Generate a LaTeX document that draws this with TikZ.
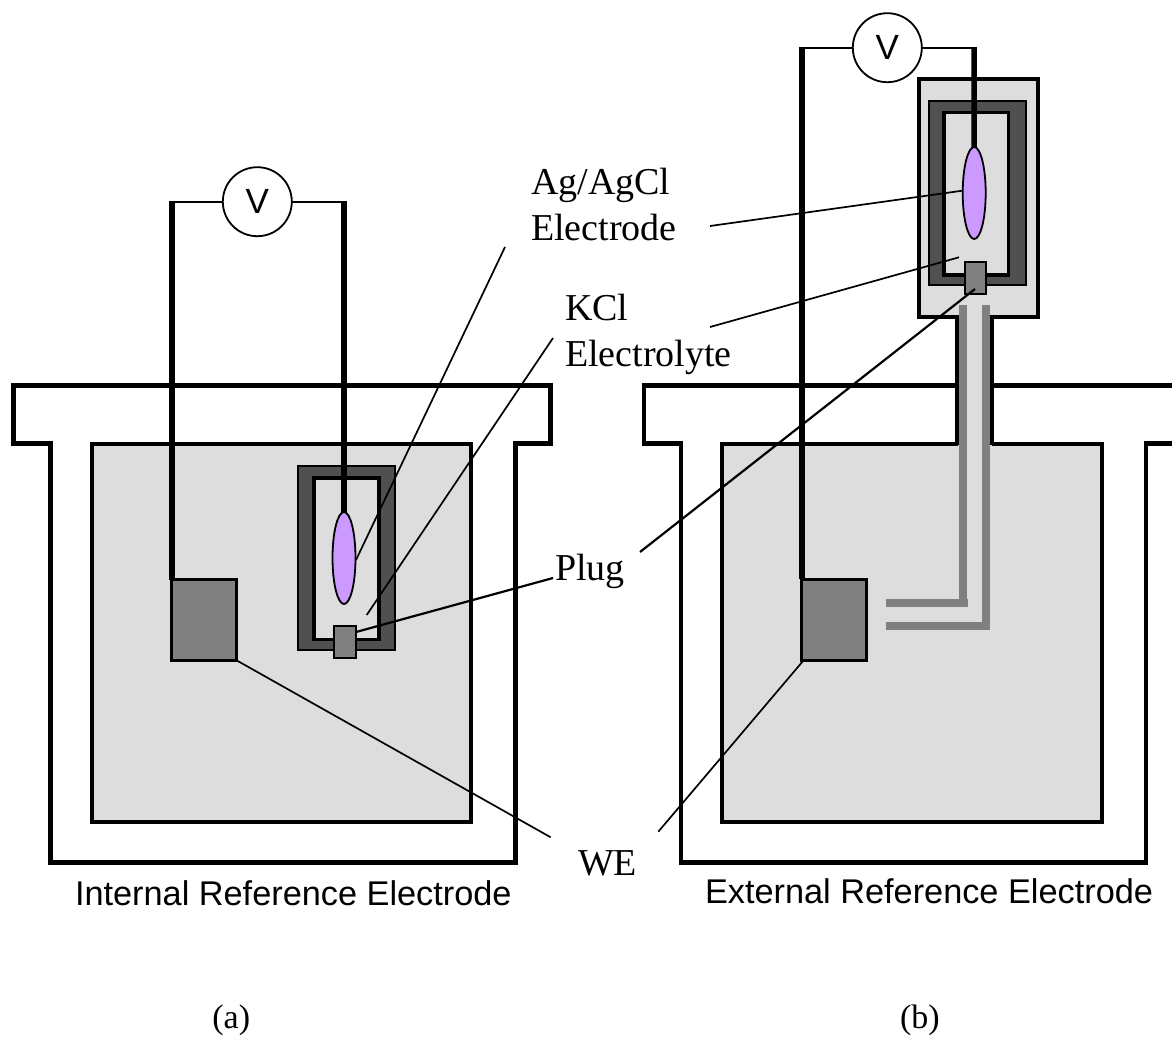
\documentclass[tikz,border=0pt]{standalone}
\usepackage{fontspec}
\usetikzlibrary{shapes.geometric}
\setmainfont{Liberation Serif}
\newfontfamily\capfont{Liberation Sans}
\definecolor{liquid}{HTML}{DDDDDD}
\definecolor{darkwall}{HTML}{505050}
\definecolor{plugc}{HTML}{808080}
\definecolor{agcl}{HTML}{CC99FF}
\tikzset{
  wall/.style={draw=black,line width=4.5pt,miter limit=10},
  liquidbox/.style={rectangle,draw=black,fill=liquid,line width=4pt,inner sep=0pt,outer sep=0pt},
  darkbox/.style={rectangle,draw=black,fill=darkwall,line width=2pt,inner sep=0pt,outer sep=0pt},
  innerbox/.style={rectangle,draw=black,fill=liquid,line width=3.2pt,inner sep=0pt,outer sep=0pt},
  plugbox/.style={rectangle,draw=black,fill=plugc,line width=2pt,inner sep=0pt,outer sep=0pt},
  webox/.style={rectangle,draw=black,fill=plugc,line width=3pt,inner sep=0pt,outer sep=0pt},
  ag/.style={ellipse,draw=black,fill=agcl,line width=1.8pt,inner sep=0pt,outer sep=0pt,minimum width=23pt,minimum height=92pt},
  meter/.style={circle,draw=black,fill=white,line width=1.8pt,inner sep=0pt,outer sep=0pt,minimum size=69pt,font=\capfont\fontsize{35}{35}\selectfont},
  thick wire/.style={line width=5.5pt,draw=black},
  thin wire/.style={line width=1.8pt,draw=black},
  leader/.style={line width=1.7pt,draw=black},
  leaderb/.style={line width=2.2pt,draw=black},
  tube/.style={line width=8pt,draw=plugc},
  serifl/.style={inner sep=0pt,outer sep=0pt,anchor=base west,font=\fontsize{38}{38}\selectfont},
  subl/.style={inner sep=0pt,outer sep=0pt,anchor=base west,font=\fontsize{34}{34}\selectfont},
  capl/.style={inner sep=0pt,outer sep=0pt,anchor=base west,font=\capfont\fontsize{34.3}{34.3}\selectfont},
}
\begin{document}
\begin{tikzpicture}[x=1pt,y=-1pt]
\useasboundingbox (0,0) rectangle (1172,1036);
% ---------- (a)
\node[liquidbox,minimum width=379pt,minimum height=378.5pt] (liqA) at (281.5,632.75) {};
\draw[wall] (50.5,862.5)--(50.5,443.5)--(13.5,443.5)--(13.5,385.5)--(550.5,385.5)--(550.5,443.5)--(515.5,443.5)--(515.5,862.5)--cycle;
\node[darkbox,minimum width=97pt,minimum height=184pt] (darkA) at (346.7,558) {};
\node[innerbox,minimum width=65pt,minimum height=161.5pt] (innerA) at (346.5,558.75) {};
\node[ag] (agA) at (344,558) {};
\node[plugbox,minimum width=22pt,minimum height=32pt] (plugA) at (345,642.3) {};
\node[webox,minimum width=65pt,minimum height=81pt] (weA) at (203.5,620) {};
\node[meter] (vA) at (257.3,201.7) {\raisebox{-1.5pt}{V}};
\coordinate (wa1) at (172,201.7);
\coordinate (wa2) at (344,201.7);
\draw[thin wire] (vA.west) -- (169.2,201.7);
\draw[thin wire] (vA.east) -- (346.7,201.7);
\draw[thick wire] (wa1) -- (wa1 |- weA.north);
\draw[thick wire] (wa2) -- (agA.north);
% ---------- (b)
\node[liquidbox,minimum width=380pt,minimum height=378.5pt] (liqB) at (912,632.75) {};
\node[liquidbox,minimum width=119pt,minimum height=237.5pt] (house) at (978.5,197.75) {};
\node[rectangle,fill=liquid,inner sep=0pt,minimum width=34.5pt,minimum height=150pt] (neck) at (974.75,375) {};
\draw[wall] (957.5,385.5)--(644,385.5)--(644,443.5)--(681,443.5)--(681,862.5)--(1146,862.5)--(1146,443.5)--(1172,443.5);
\draw[wall] (992,385.5)--(1172,385.5);
\draw[wall] (957.5,314.5)--(957.5,445);
\draw[wall] (992,314.5)--(992,445);
\coordinate (tl) at (963,305);
\coordinate (tr) at (986,305);
\draw[tube] (tl) -- (963,607);
\draw[tube] (886,603) -- (968,603);
\draw[tube] (tr) -- (986,626) -- (886,626);
\node[darkbox,minimum width=97pt,minimum height=184.5pt] (darkB) at (977,192.75) {};
\node[innerbox,minimum width=64.5pt,minimum height=162.3pt] (innerB) at (976.25,193.85) {};
\node[ag] (agB) at (974.2,193) {};
\node[plugbox,minimum width=21.5pt,minimum height=32pt] (plugB) at (975.25,278) {};
\node[webox,minimum width=65pt,minimum height=81pt] (weB) at (833.5,619.5) {};
\node[meter] (vB) at (887.3,47.7) {\raisebox{-1.5pt}{V}};
\coordinate (wb1) at (802,47.7);
\coordinate (wb2) at (974,47.7);
\draw[thin wire] (vB.west) -- (799.2,47.7);
\draw[thin wire] (vB.east) -- (976.7,47.7);
\draw[thick wire] (wb1) -- (wb1 |- weB.north);
\draw[thick wire] (wb2) -- (agB.north);
% ---------- labels
\node[serifl] (lAg) at (531,194.3) {Ag/AgCl};
\node[serifl] (lEl) at (531,240.7) {Electrode};
\node[serifl] (lK) at (565,320.7) {KCl};
\node[serifl] (lEy) at (565,366.7) {Electrolyte};
\node[serifl] (lPlug) at (555,580) {Plug};
\node[serifl] (lWE) at (578,875) {WE};
\node[capl] (capA) at (75,905) {Internal Reference Electrode};
\node[capl] (capB) at (705,903.5) {External Reference Electrode};
\node[subl] (capa) at (212.4,1028) {(a)};
\node[subl] (capbb) at (900,1028) {(b)};
% ---------- leaders
\coordinate (a1) at (505,247);  \coordinate (a2) at (356,560);
\coordinate (a3) at (553,338);  \coordinate (a4) at (366.7,615);
\coordinate (a5) at (553,578);  \coordinate (a6) at (356,632);
\coordinate (a7) at (550.7,837.3); \coordinate (a8) at (236,660);
\coordinate (b1) at (710,226);  \coordinate (b2) at (962.3,190.7);
\coordinate (b3) at (710,327);  \coordinate (b4) at (959,257.3);
\coordinate (b5) at (640,552);  \coordinate (b6) at (975,289);
\coordinate (b7) at (658.3,831.7); \coordinate (b8) at (803,661);
\draw[leader] (a1) -- (a2);
\draw[leader] (a3) -- (a4);
\draw[leaderb] (a5) -- (a6);
\draw[leader] (a7) -- (a8);
\draw[leader] (b1) -- (b2);
\draw[leader] (b3) -- (b4);
\draw[leaderb] (b5) -- (b6);
\draw[leader] (b7) -- (b8);
\end{tikzpicture}
\end{document}
